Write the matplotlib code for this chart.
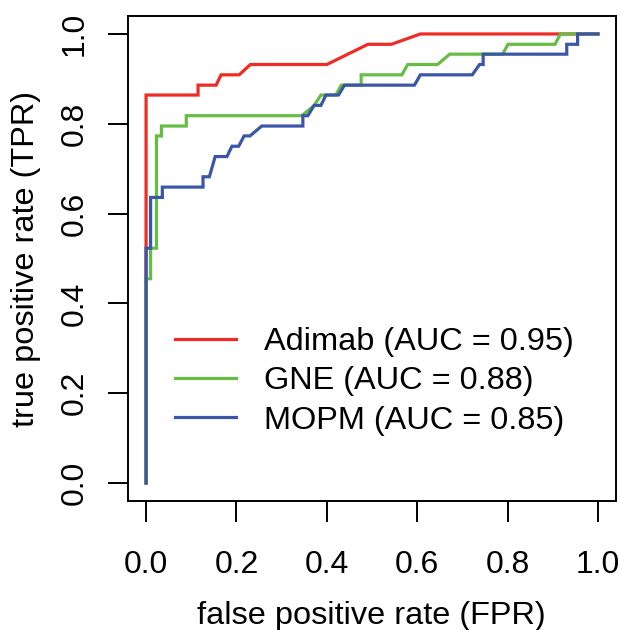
import matplotlib
matplotlib.use("Agg")
import matplotlib.pyplot as plt

plt.rcParams['font.family'] = ['Liberation Sans', 'DejaVu Sans']

# ROC curve points
adimab_fpr = [0.0, 0.0, 0.115, 0.115, 0.155, 0.166, 0.206, 0.231, 0.400, 0.491, 0.543, 0.607, 1.0]
adimab_tpr = [0.0, 0.864, 0.864, 0.886, 0.886, 0.909, 0.909, 0.932, 0.932, 0.977, 0.977, 1.0, 1.0]

gne_fpr = [0.0, 0.0, 0.010, 0.010, 0.023, 0.023, 0.034, 0.034, 0.089, 0.089, 0.345, 0.372, 0.387,
           0.420, 0.432, 0.476, 0.476, 0.566, 0.579, 0.645, 0.672, 0.789, 0.801, 0.905, 0.917, 1.0]
gne_tpr = [0.0, 0.455, 0.455, 0.523, 0.523, 0.773, 0.773, 0.795, 0.795, 0.818, 0.818, 0.841, 0.864,
           0.864, 0.886, 0.886, 0.909, 0.909, 0.932, 0.932, 0.955, 0.955, 0.977, 0.977, 1.0, 1.0]

mopm_fpr = [0.0, 0.0, 0.010, 0.010, 0.036, 0.036, 0.126, 0.126, 0.140, 0.153, 0.179, 0.190, 0.205,
            0.217, 0.230, 0.256, 0.347, 0.347, 0.358, 0.372, 0.387, 0.398, 0.426, 0.439, 0.594,
            0.607, 0.722, 0.738, 0.746, 0.746, 0.931, 0.931, 0.955, 0.955, 1.0]
mopm_tpr = [0.0, 0.523, 0.523, 0.636, 0.636, 0.659, 0.659, 0.682, 0.682, 0.727, 0.727, 0.750, 0.750,
            0.773, 0.773, 0.795, 0.795, 0.818, 0.818, 0.841, 0.841, 0.864, 0.864, 0.886, 0.886,
            0.909, 0.909, 0.932, 0.932, 0.955, 0.955, 0.977, 0.977, 1.0, 1.0]

labels = ["Adimab (AUC = 0.95)", "GNE (AUC = 0.88)", "MOPM (AUC = 0.85)"]
colors = ["#EE2B24", "#66BD45", "#3B56A6"]
ticks = [0.0, 0.2, 0.4, 0.6, 0.8, 1.0]
tick_labels = ["0.0", "0.2", "0.4", "0.6", "0.8", "1.0"]

fig = plt.figure(figsize=(6.2, 6.3), dpi=100)
ax = fig.add_axes([128/620, 1 - 501/630, 488/620, 485/630])

for fx, ty, c, lab in zip([adimab_fpr, gne_fpr, mopm_fpr], [adimab_tpr, gne_tpr, mopm_tpr], colors, labels):
    ax.plot(fx, ty, color=c, lw=2.3, label=lab, solid_joinstyle='miter')

ax.set_xlim(-0.04, 1.04)
ax.set_ylim(-0.04, 1.04)
ax.set_xticks(ticks)
ax.set_xticklabels(tick_labels)
ax.set_yticks(ticks)
ax.set_yticklabels(tick_labels, rotation=90, va='center')
for s in ax.spines.values():
    s.set_linewidth(1.4)
ax.tick_params(axis='x', length=15, width=1.4, pad=20, labelsize=23)
ax.tick_params(axis='y', length=14.5, width=1.4, pad=13, labelsize=23)

ax.set_xlabel("false positive rate (FPR)", fontsize=23.4, va='center')
ax.xaxis.set_label_coords(0.499, (501 - 616) / 485)
ax.set_ylabel("true positive rate (TPR)", fontsize=23.4, va='center', ha='center')
ax.yaxis.set_label_coords((26 - 128) / 488, 0.499)

ax.legend(frameon=False, loc='center left', bbox_to_anchor=((175 - 128) / 488, (501 - 381.5) / 485),
          fontsize=23.4, handlelength=1.88, handletextpad=0.85, labelspacing=0.28,
          borderpad=0, borderaxespad=0)

fig.savefig("out.png", dpi=100)
